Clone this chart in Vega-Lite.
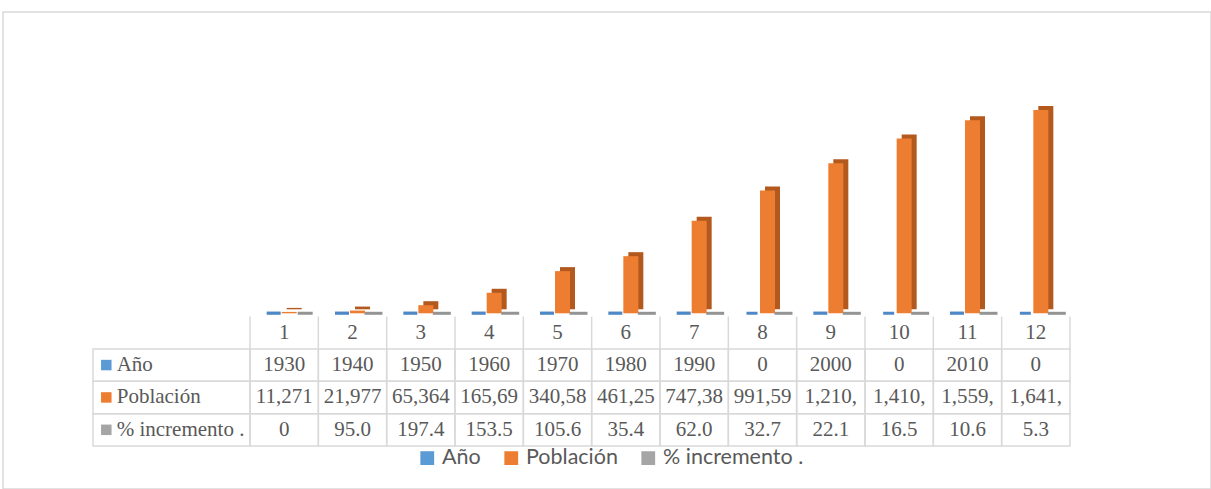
{
  "$schema": "https://vega.github.io/schema/vega-lite/v6.json",
  "width": 1208,
  "height": 477,
  "autosize": {"type": "none"},
  "padding": {"left": 3, "top": 12, "right": 0, "bottom": 0},
  "background": "white",
  "config": {"view": {"stroke": "#D9D9D9", "strokeWidth": 1.5}, "legend": {"title": null}},
  "datasets": {
    "tabla": [
      {"col": 1, "anio": 1930, "poblacion": 11271, "incremento": 0},
      {"col": 2, "anio": 1940, "poblacion": 21977, "incremento": 95.0},
      {"col": 3, "anio": 1950, "poblacion": 65364, "incremento": 197.4},
      {"col": 4, "anio": 1960, "poblacion": 165690, "incremento": 153.5},
      {"col": 5, "anio": 1970, "poblacion": 340583, "incremento": 105.6},
      {"col": 6, "anio": 1980, "poblacion": 461257, "incremento": 35.4},
      {"col": 7, "anio": 1990, "poblacion": 747381, "incremento": 62.0},
      {"col": 8, "anio": 0, "poblacion": 991592, "incremento": 32.7},
      {"col": 9, "anio": 2000, "poblacion": 1210820, "incremento": 22.1},
      {"col": 10, "anio": 0, "poblacion": 1410687, "incremento": 16.5},
      {"col": 11, "anio": 2010, "poblacion": 1559683, "incremento": 10.6},
      {"col": 12, "anio": 0, "poblacion": 1641570, "incremento": 5.3}
    ],
    "filas": [
      {"serie": "anio", "nombre": "Año"},
      {"serie": "poblacion", "nombre": "Población"},
      {"serie": "incremento", "nombre": "% incremento ."}
    ]
  },
  "resolve": {"scale": {"x": "independent", "y": "independent"}},
  "layer": [
    {
      "data": {"name": "tabla"},
      "mark": {"type": "bar", "width": 11, "xOffset": -10.5, "stroke": "#4F88C6", "strokeWidth": 3},
      "encoding": {
        "x": {"field": "col", "type": "ordinal", "axis": null, "scale": {"type": "band", "domain": [1,2,3,4,5,6,7,8,9,10,11,12], "paddingInner": 0, "paddingOuter": 0, "range": [247, 1067]}},
        "y": {"field": "anio", "type": "quantitative", "axis": null, "scale": {"domain": [-1418700, 2432800], "nice": false, "zero": false}},
        "color": {"datum": "Año", "type": "nominal",
          "scale": {"domain": ["Año", "Población", "% incremento ."], "range": ["#5B9BD5", "#ED7D31", "#A5A5A5"]},
          "legend": {"orient": "none", "legendX": 413.5, "legendY": 435, "direction": "horizontal", "title": null,
            "symbolType": "square", "symbolSize": 190, "symbolStrokeWidth": 0,
            "labelFont": "Lato", "labelFontSize": 21.5, "labelColor": "#595959", "labelOffset": 4,
            "columnPadding": 19, "padding": 0}}
      }
    },
    {
      "data": {"name": "tabla"},
      "mark": {"type": "bar", "width": 15, "xOffset": 21, "stroke": "#949494", "strokeWidth": 3},
      "encoding": {
        "x": {"field": "col", "type": "ordinal", "axis": null, "scale": {"type": "band", "domain": [1,2,3,4,5,6,7,8,9,10,11,12], "paddingInner": 0, "paddingOuter": 0, "range": [247, 1067]}},
        "y": {"field": "incremento", "type": "quantitative", "axis": null, "scale": {"domain": [-1418700, 2432800], "nice": false, "zero": false}},
        "color": {"datum": "% incremento .", "type": "nominal"}
      }
    },
    {
      "data": {"name": "tabla"},
      "mark": {"type": "bar", "width": 15, "xOffset": 10, "yOffset": -4, "y2Offset": -4, "color": "#B3591E"},
      "encoding": {
        "x": {"field": "col", "type": "ordinal", "axis": null, "scale": {"type": "band", "domain": [1,2,3,4,5,6,7,8,9,10,11,12], "paddingInner": 0, "paddingOuter": 0, "range": [247, 1067]}},
        "y": {"field": "poblacion", "type": "quantitative", "axis": null, "scale": {"domain": [-1418700, 2432800], "nice": false, "zero": false}}
      }
    },
    {
      "data": {"name": "tabla"},
      "mark": {"type": "bar", "width": 15, "xOffset": 5},
      "encoding": {
        "x": {"field": "col", "type": "ordinal", "axis": null, "scale": {"type": "band", "domain": [1,2,3,4,5,6,7,8,9,10,11,12], "paddingInner": 0, "paddingOuter": 0, "range": [247, 1067]}},
        "y": {"field": "poblacion", "type": "quantitative", "axis": null, "scale": {"domain": [-1418700, 2432800], "nice": false, "zero": false}},
        "color": {"datum": "Población", "type": "nominal"}
      }
    },
    {
      "data": {"name": "tabla"},
      "transform": [{"fold": ["anio", "poblacion", "incremento"], "as": ["key", "valor"]}],
      "mark": {"type": "rect", "filled": false, "stroke": "#D9D9D9", "strokeWidth": 1.5},
      "encoding": {
        "x": {"field": "col", "type": "ordinal", "axis": null, "scale": {"type": "band", "domain": [1,2,3,4,5,6,7,8,9,10,11,12], "paddingInner": 0, "paddingOuter": 0, "range": [247, 1067]}},
        "y": {"field": "key", "type": "nominal", "axis": null, "scale": {"type": "band", "domain": ["col", "anio", "poblacion", "incremento"], "paddingInner": 0, "paddingOuter": 0, "range": [304.5, 434]}}
      }
    },
    {
      "data": {"name": "tabla"},
      "mark": {"type": "rule", "color": "#D9D9D9", "strokeWidth": 1.5},
      "encoding": {
        "x": {"field": "col", "type": "ordinal", "bandPosition": 0, "axis": null, "scale": {"type": "band", "domain": [1,2,3,4,5,6,7,8,9,10,11,12], "paddingInner": 0, "paddingOuter": 0, "range": [247, 1067]}},
        "y": {"datum": "col", "type": "nominal", "bandPosition": 0, "axis": null, "scale": {"type": "band", "domain": ["col", "anio", "poblacion", "incremento"], "paddingInner": 0, "paddingOuter": 0, "range": [304.5, 434]}},
        "y2": {"datum": "anio", "bandPosition": 0}
      }
    },
    {
      "data": {"name": "tabla"},
      "transform": [{"filter": "datum.col === 12"}],
      "mark": {"type": "rule", "color": "#D9D9D9", "strokeWidth": 1.5},
      "encoding": {
        "x": {"field": "col", "type": "ordinal", "bandPosition": 1, "axis": null, "scale": {"type": "band", "domain": [1,2,3,4,5,6,7,8,9,10,11,12], "paddingInner": 0, "paddingOuter": 0, "range": [247, 1067]}},
        "y": {"datum": "col", "type": "nominal", "bandPosition": 0, "axis": null, "scale": {"type": "band", "domain": ["col", "anio", "poblacion", "incremento"], "paddingInner": 0, "paddingOuter": 0, "range": [304.5, 434]}},
        "y2": {"datum": "anio", "bandPosition": 0}
      }
    },
    {
      "data": {"name": "tabla"},
      "mark": {"type": "text", "font": "Liberation Serif", "fontSize": 21, "color": "#595959", "baseline": "middle"},
      "encoding": {
        "x": {"field": "col", "type": "ordinal", "axis": null, "scale": {"type": "band", "domain": [1,2,3,4,5,6,7,8,9,10,11,12], "paddingInner": 0, "paddingOuter": 0, "range": [247, 1067]}},
        "y": {"datum": "col", "type": "nominal", "axis": null, "scale": {"type": "band", "domain": ["col", "anio", "poblacion", "incremento"], "paddingInner": 0, "paddingOuter": 0, "range": [304.5, 434]}},
        "text": {"field": "col", "type": "nominal"}
      }
    },
    {
      "data": {"name": "tabla"},
      "transform": [
        {"fold": ["anio", "poblacion", "incremento"], "as": ["key", "valor"]},
        {"calculate": "datum.key === 'poblacion' ? substring(format(datum.valor, ','), 0, 6) : datum.key === 'incremento' ? (datum.valor === 0 ? '0' : format(datum.valor, '.1f')) : format(datum.valor, 'd')", "as": "etiqueta"}
      ],
      "mark": {"type": "text", "font": "Liberation Serif", "fontSize": 21, "color": "#595959", "baseline": "middle"},
      "encoding": {
        "x": {"field": "col", "type": "ordinal", "axis": null, "scale": {"type": "band", "domain": [1,2,3,4,5,6,7,8,9,10,11,12], "paddingInner": 0, "paddingOuter": 0, "range": [247, 1067]}},
        "y": {"field": "key", "type": "nominal", "axis": null, "scale": {"type": "band", "domain": ["col", "anio", "poblacion", "incremento"], "paddingInner": 0, "paddingOuter": 0, "range": [304.5, 434]}},
        "text": {"field": "etiqueta", "type": "nominal"}
      }
    },
    {
      "data": {"name": "filas"},
      "mark": {"type": "rect", "filled": false, "stroke": "#D9D9D9", "strokeWidth": 1.5},
      "encoding": {
        "x": {"datum": "encabezado", "type": "nominal", "axis": null, "scale": {"type": "band", "domain": ["encabezado"], "paddingInner": 0, "paddingOuter": 0, "range": [90, 247]}},
        "y": {"field": "serie", "type": "nominal", "axis": null, "scale": {"type": "band", "domain": ["col", "anio", "poblacion", "incremento"], "paddingInner": 0, "paddingOuter": 0, "range": [304.5, 434]}}
      }
    },
    {
      "data": {"name": "filas"},
      "mark": {"type": "point", "shape": "square", "filled": true, "size": 110, "opacity": 1, "xOffset": 13.3},
      "encoding": {
        "x": {"datum": "encabezado", "type": "nominal", "bandPosition": 0, "axis": null, "scale": {"type": "band", "domain": ["encabezado"], "paddingInner": 0, "paddingOuter": 0, "range": [90, 247]}},
        "y": {"field": "serie", "type": "nominal", "axis": null, "scale": {"type": "band", "domain": ["col", "anio", "poblacion", "incremento"], "paddingInner": 0, "paddingOuter": 0, "range": [304.5, 434]}},
        "color": {"field": "nombre", "type": "nominal"}
      }
    },
    {
      "data": {"name": "filas"},
      "mark": {"type": "text", "font": "Liberation Serif", "fontSize": 21, "color": "#595959", "align": "left", "baseline": "middle", "dx": 23.7},
      "encoding": {
        "x": {"datum": "encabezado", "type": "nominal", "bandPosition": 0, "axis": null, "scale": {"type": "band", "domain": ["encabezado"], "paddingInner": 0, "paddingOuter": 0, "range": [90, 247]}},
        "y": {"field": "serie", "type": "nominal", "axis": null, "scale": {"type": "band", "domain": ["col", "anio", "poblacion", "incremento"], "paddingInner": 0, "paddingOuter": 0, "range": [304.5, 434]}},
        "text": {"field": "nombre", "type": "nominal"}
      }
    }
  ]
}
